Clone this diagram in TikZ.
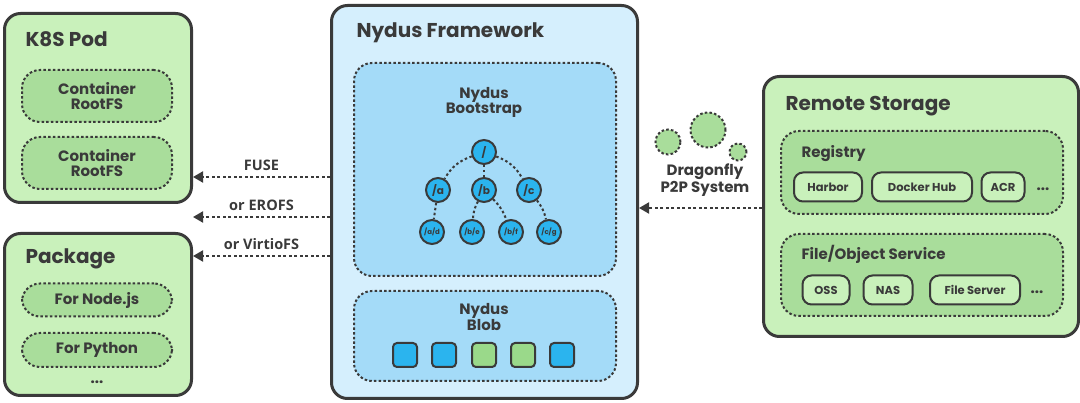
\documentclass[tikz,border=0pt]{standalone}
\usepackage{fontspec}
\setmainfont{Poppins}
\newfontfamily\labelfont{Open Sans}
\usetikzlibrary{positioning,arrows.meta}
\definecolor{Ink}{HTML}{3A3A3A}
\definecolor{Leaf}{HTML}{C9F1BB}
\definecolor{Moss}{HTML}{A9DD9B}
\definecolor{Sky}{HTML}{D5EFFD}
\definecolor{Pool}{HTML}{A4DBF8}
\definecolor{Azure}{HTML}{2BB4EE}
\definecolor{Sprout}{HTML}{9AD98A}

\tikzset{
  panel/.style={draw=Ink, line width=3pt, rounded corners=16pt, anchor=north west},
  pocket/.style={draw=Ink, line width=2pt, dash pattern=on 2.5pt off 2.2pt, rounded corners=#1},
  pocket/.default=18pt,
  heading/.style={anchor=base west, text=Ink, font=\fontsize{20}{22}\selectfont\bfseries},
  subhead/.style={anchor=base west, text=Ink, font=\fontsize{15}{16}\selectfont\bfseries},
  tag/.style={text=Ink, align=center, font=\fontsize{15}{15}\selectfont\bfseries},
  pill/.style={draw=Ink, line width=2pt, fill=Leaf, rounded corners=9pt, minimum height=29pt,
    inner sep=0pt, text=Ink, font=\fontsize{11.5}{12}\selectfont\bfseries},
  dir/.style={circle, draw=Ink, line width=2pt, fill=Azure, minimum size=24pt, inner sep=0pt,
    text=Ink, font=\fontsize{10.5}{10.5}\selectfont\bfseries},
  leafdir/.style={dir, font=\fontsize{7}{7}\selectfont\bfseries},
  twig/.style={draw=Ink, line width=2pt, dash pattern=on 2.5pt off 2.5pt},
  chunk/.style={draw=Ink, line width=2pt, rounded corners=4pt, minimum size=24pt, inner sep=0pt},
  flow/.style={draw=Ink, line width=2pt, dash pattern=on 3pt off 2.5pt,
    -{Triangle[length=10pt,width=11pt]}},
  via/.style={text=Ink, font=\labelfont\fontsize{14.5}{14.5}\selectfont\bfseries}
}

\begin{document}
\begin{tikzpicture}[x=1pt, y=-1pt]
\useasboundingbox (0,0) rectangle (1080,403);

% left side: consumers
\node[panel, fill=Leaf, minimum width=187pt, minimum height=189pt] (pod) at (3,12) {};
\node[heading] (podtitle) at (22,47) {K8S Pod};
\node[pocket, fill=Moss, minimum width=150pt, minimum height=52pt] (rootfsA) at (97,96) {};
\node[tag] at (rootfsA) {Container\\RootFS};
\node[pocket, fill=Moss, minimum width=150pt, minimum height=52pt] (rootfsB) at (97,163) {};
\node[tag] at (rootfsB) {Container\\RootFS};

\node[panel, fill=Leaf, minimum width=187pt, minimum height=162pt] (pkg) at (3,232) {};
\node[heading] (pkgtitle) at (22,264) {Package};
\node[pocket, fill=Moss, minimum width=150pt, minimum height=33pt] (nodejs) at (97,300) {};
\node[tag] at (nodejs) {For Node.js};
\node[pocket, fill=Moss, minimum width=150pt, minimum height=34pt] (python) at (97,350) {};
\node[tag] at (python) {For Python};
\node[tag, anchor=base] (pkgmore) at (97,384) {...};

% middle: the framework
\node[panel, fill=Sky, minimum width=306pt, minimum height=393pt] (fw) at (330,4) {};
\node[heading] (fwtitle) at (353,38) {Nydus Framework};

\node[pocket, fill=Pool, anchor=north west, minimum width=262pt, minimum height=213pt] (boot) at (353,62) {};
\node[tag] (boottitle) at (484,102) {Nydus\\Bootstrap};
\node[dir] (root) at (484,152) {/};
\node[dir] (a) at (438,190) {/a};
\node[dir] (b) at (484,190) {/b};
\node[dir] (c) at (529,190) {/c};
\node[leafdir] (ad) at (432,232) {/a/d};
\node[leafdir] (be) at (472,232) {/b/e};
\node[leafdir] (bf) at (511,232) {/b/f};
\node[leafdir] (cg) at (549,232) {/c/g};
\draw[twig] (root) to[bend right=20] (a);
\draw[twig] (root) -- (b);
\draw[twig] (root) to[bend left=20] (c);
\draw[twig] (a) -- (ad);
\draw[twig] (b) to[bend right=12] (be);
\draw[twig] (b) to[bend left=12] (bf);
\draw[twig] (c) to[bend left=12] (cg);

\node[pocket, fill=Pool, anchor=north west, minimum width=262pt, minimum height=90pt] (blob) at (353,290) {};
\node[tag] (blobtitle) at (484,317) {Nydus\\Blob};
\node[chunk, fill=Azure] (k1) at (405,355) {};
\node[chunk, fill=Azure] (k2) at (444,355) {};
\node[chunk, fill=Sprout] (k3) at (484,355) {};
\node[chunk, fill=Sprout] (k4) at (523,355) {};
\node[chunk, fill=Azure] (k5) at (562,355) {};

% right side: remote storage
\node[panel, fill=Leaf, minimum width=315pt, minimum height=260pt] (rs) at (762,75) {};
\node[heading] (rstitle) at (782,111) {Remote Storage};

\node[pocket, fill=Moss, anchor=north west, minimum width=282pt, minimum height=83pt] (reg) at (780,130) {};
\node[subhead] (regtitle) at (798,158) {Registry};
\node[pill, minimum width=68pt] (harbor) at (828,187) {Harbor};
\node[pill, minimum width=100pt] (hub) at (922,187) {Docker Hub};
\node[pill, minimum width=43pt] (acr) at (1003,187) {ACR};
\node[tag, anchor=base] (regmore) at (1043,191) {...};

\node[pocket, fill=Moss, anchor=north west, minimum width=282pt, minimum height=82pt] (fos) at (780,233) {};
\node[subhead] (fostitle) at (798,260) {File/Object Service};
\node[pill, minimum width=47pt] (oss) at (826,290) {OSS};
\node[pill, minimum width=49pt] (nas) at (888,290) {NAS};
\node[pill, minimum width=90pt] (fileserver) at (975,290) {File Server};
\node[tag, anchor=base] (fosmore) at (1037,294) {...};

% dragonfly
\node[circle, pocket, fill=Moss, minimum size=35pt, inner sep=0pt] (peerB) at (708,130) {};
\node[circle, pocket, fill=Moss, minimum size=25pt, inner sep=0pt] (peerA) at (668,142) {};
\node[circle, pocket, fill=Moss, minimum size=17pt, inner sep=0pt] (peerC) at (738,152) {};
\node[tag] (p2p) at (705,180) {Dragonfly\\P2P System};

% connectors
\draw[flow] (fw.west |- 0,177) -- node[via, above=2pt] (fuse) {FUSE} (pod.east |- 0,177);
\draw[flow] (fw.west |- 0,217) -- node[via, above=2pt] (erofs) {or EROFS} (pod.east |- 0,217);
\draw[flow] (fw.west |- 0,256) -- node[via, above=2pt] (virtiofs) {or VirtioFS} (pkg.east |- 0,256);
\draw[flow] (rs.west |- 0,208) -- (fw.east |- 0,208);
\end{tikzpicture}
\end{document}
